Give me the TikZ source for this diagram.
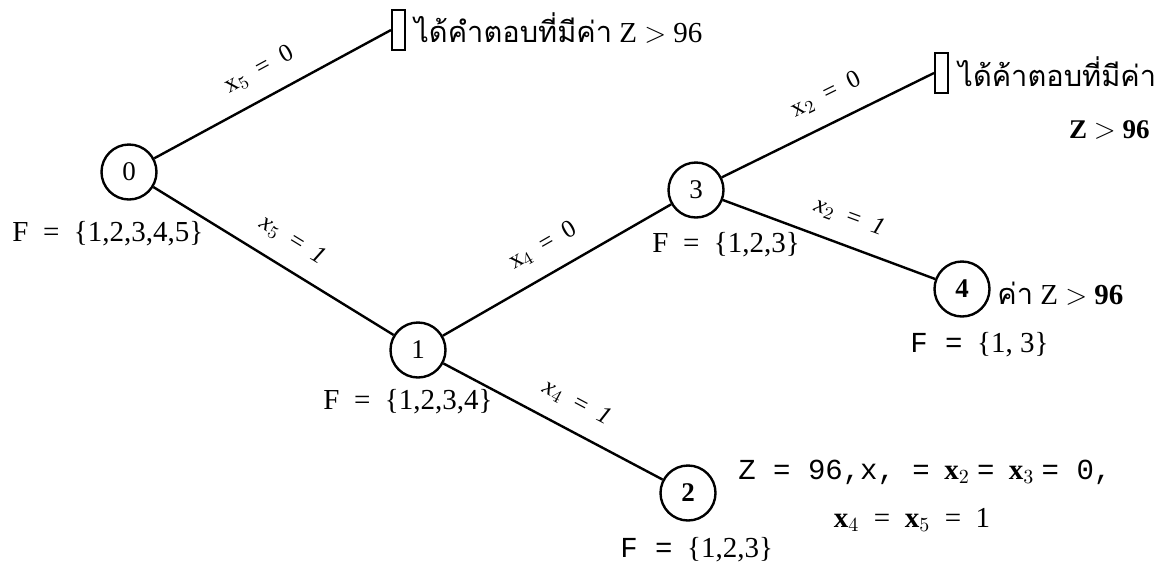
\documentclass[tikz,border=0pt]{standalone}
\usepackage{fontspec}
\setmainfont{Liberation Serif}
\newfontfamily\thaifont[Script=Thai]{Loma}
\newfontfamily\monof{Liberation Mono}
\begin{document}
\begin{tikzpicture}[x=0.5pt,y=-0.5pt,
  state/.style={circle, draw, line width=1.2pt, minimum size=27.5pt, inner sep=0pt, font=\fontsize{13.5}{15}\selectfont},
  leaf/.style={draw, line width=1pt, minimum width=6.5pt, minimum height=20pt, inner sep=0pt},
  edge/.style={line width=1.2pt},
  lab/.style={sloped, above=5pt, font=\fontsize{12.5}{14}\selectfont},
  txt/.style={font=\fontsize{14.5}{16}\selectfont, inner sep=0pt, anchor=west},
  thaitxt/.style={font=\fontsize{14.5}{17}\selectfont, inner sep=0pt, anchor=west}]
\useasboundingbox (0,0) rectangle (1155,569);
% states
\node[state] (n0) at (129,172) {0};
\node[state] (n1) at (418,350) {1};
\node[state] (n2) at (688,493) {\textbf{2}};
\node[state] (n3) at (696,190) {3};
\node[state] (n4) at (962,289) {\textbf{4}};
\node[leaf] (bA) at (398.5,30) {};
\node[leaf] (bB) at (941.5,73) {};
% edges
\draw[edge] (n0) -- node[lab] {x$_5$\ \ =\ \ 0} (bA.west);
\draw[edge] (n0) -- node[lab, pos=0.52] {\textit{x}$_5$\ \ =\ \ \textit{1}} (n1);
\draw[edge] (n1) -- node[lab] {x$_4$\ \ =\ \ 0} (n3);
\draw[edge] (n1) -- node[lab, pos=0.55] {\textit{x}$_4$\ \ =\ \ \textit{1}} (n2);
\draw[edge] (n3) -- node[lab, pos=0.55] {x$_2$\ \ =\ \ 0} (bB.west);
\draw[edge] (n3) -- node[lab, pos=0.55] {\textit{x}$_2$\ \ =\ \ \textit{1}} (n4);
% texts
\node[txt] (f0) at (12,234) {F\ \ =\ \ \{1,2,3,4,5\}};
\node[txt] (f1) at (323,402) {F\ \ =\ \ \{1,2,3,4\}};
\node[txt] (f3) at (652,245) {F\ \ =\ \ \{1,2,3\}};
\node[txt] (f4) at (910,345) {{\monof F\ =}\ \ \{1,\ 3\}};
\node[txt] (f2) at (620,550) {{\monof F\ =}\ \ \{1,2,3\}};
\node[thaitxt] (tA) at (414,28) {{\thaifont ได้คำตอบที่มีค่า} Z $>$ 96};
\node[thaitxt] (tB) at (958,72) {\thaifont ได้ค้าตอบที่มีค่า};
\node[txt, anchor=east, font=\fontsize{13.5}{15}\selectfont] (zB) at (1150,130) {\textbf{Z $>$ 96}};
\node[thaitxt] (t4) at (997,294) {{\thaifont ค่า} Z\ $>$\ \textbf{96}};
\node[txt] (z1) at (738,472) {{\monof Z = 96,x, =}\ \ \textbf{x}$_2$\ {\monof =}\ \ \textbf{x}$_3$\ {\monof = 0,}};
\node[txt, anchor=center] (z2) at (912,520) {\textbf{x}$_4$\ \ =\ \ \textbf{x}$_5$\ \ =\ \ 1};
\end{tikzpicture}
\end{document}
